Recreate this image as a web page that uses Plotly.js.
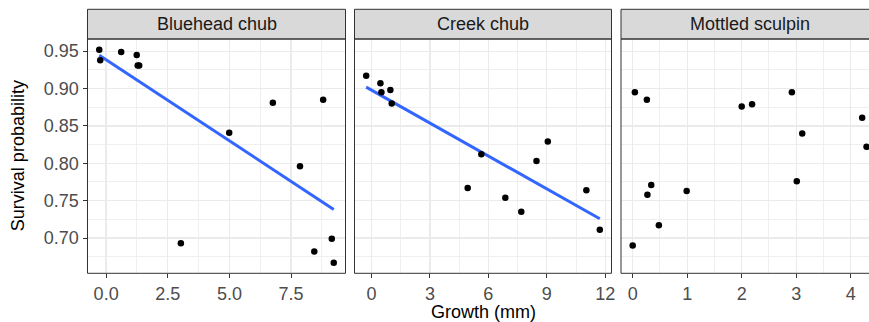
<!DOCTYPE html>
<html><head><meta charset="utf-8">
<script src="https://cdn.plot.ly/plotly-3.0.1.min.js"></script>
<style>html,body{margin:0;padding:0;overflow:hidden;background:#fff}#chart{width:869px;height:322px}</style>
</head><body><div id="chart"></div>
<script>
const panelNames = ["Bluehead chub", "Creek chub", "Mottled sculpin"];

const blueheadGrowth   = [-0.28, -0.24, 0.61, 1.24, 1.28, 1.34, 4.99, 6.76, 8.80, 7.86, 3.03, 8.44, 9.15, 9.23];
const blueheadSurvival = [0.952, 0.938, 0.949, 0.945, 0.931, 0.931, 0.841, 0.881, 0.885, 0.796, 0.693, 0.682, 0.699, 0.667];

const creekGrowth   = [-0.27, 0.46, 0.51, 0.97, 1.04, 5.64, 4.94, 6.87, 7.69, 8.47, 9.05, 11.03, 11.72];
const creekSurvival = [0.917, 0.907, 0.895, 0.898, 0.880, 0.812, 0.767, 0.754, 0.735, 0.803, 0.829, 0.764, 0.711];

const sculpinGrowth   = [0.04, 0.26, 0.34, 0.27, 0.99, 0.48, 0.00, 2.00, 2.19, 2.92, 3.11, 3.01, 4.21, 4.29];
const sculpinSurvival = [0.895, 0.885, 0.771, 0.758, 0.763, 0.717, 0.690, 0.876, 0.879, 0.895, 0.840, 0.776, 0.861, 0.822];

const yTickVals = [0.70, 0.75, 0.80, 0.85, 0.90, 0.95];
const yTickText = ["0.70", "0.75", "0.80", "0.85", "0.90", "0.95"];
const x1TickVals = [0, 2.5, 5, 7.5];
const x1TickText = ["0.0", "2.5", "5.0", "7.5"];
const x2TickVals = [0, 3, 6, 9, 12];
const x2TickText = ["0", "3", "6", "9", "12"];
const x3TickVals = [0, 1, 2, 3, 4];
const x3TickText = ["0", "1", "2", "3", "4"];

const W = 869, H = 322;
const FONT = "Liberation Sans, Arial, sans-serif";
const FS = 18;
const px = v => v / W;
const py = v => 1 - v / H;

function lmFit(x, y) {
  const n = x.length;
  const mx = x.reduce((a, b) => a + b, 0) / n;
  const my = y.reduce((a, b) => a + b, 0) / n;
  let sxy = 0, sxx = 0;
  for (let i = 0; i < n; i++) { sxy += (x[i] - mx) * (y[i] - my); sxx += (x[i] - mx) ** 2; }
  const b = sxy / sxx, a = my - b * mx;
  const x0 = Math.min(...x), x1 = Math.max(...x);
  return { x: [x0, x1], y: [a + b * x0, a + b * x1] };
}

const pts = (x, y, xa, ya) => ({ x, y, xaxis: xa, yaxis: ya, type: "scatter", mode: "markers",
  marker: { color: "#000000", size: 6.5 }, hoverinfo: "skip", showlegend: false });
const fitLine = (f, xa, ya) => ({ x: f.x, y: f.y, xaxis: xa, yaxis: ya, type: "scatter", mode: "lines",
  line: { color: "#3366FF", width: 3 }, hoverinfo: "skip", showlegend: false });

const f1 = lmFit(blueheadGrowth, blueheadSurvival);
const f2 = lmFit(creekGrowth, creekSurvival);

const data = [
  fitLine(f1, "x", "y"), pts(blueheadGrowth, blueheadSurvival, "x", "y"),
  fitLine(f2, "x2", "y2"), pts(creekGrowth, creekSurvival, "x2", "y2"),
  pts(sculpinGrowth, sculpinSurvival, "x3", "y3")
];

const panelTop = 39, panelBot = 273.3, stripTop = 9.3;
const panels = [[87.5, 345.5], [354.5, 611.5], [621, 869]];
const yDomain = [py(panelBot), py(panelTop)];

const tickFont = { family: FONT, size: FS, color: "#4D4D4D" };
function xAxis(i, range, tv, tt, minorD, anchor) {
  return {
    domain: [px(panels[i][0]), px(panels[i][1])], range, anchor,
    tickvals: tv, ticktext: tt, ticks: "outside", ticklen: 4, tickwidth: 1, tickcolor: "#333333",
    tickfont: tickFont, showgrid: true, gridcolor: "#EBEBEB", gridwidth: 1.3,
    minor: { dtick: minorD, tick0: 0, showgrid: true, gridcolor: "#EBEBEB", gridwidth: 0.8, ticks: "" },
    zeroline: false, showline: false, fixedrange: true
  };
}
function yAxis(anchor, labels) {
  return {
    domain: yDomain, range: [0.6528, 0.9663], anchor,
    tickvals: yTickVals, ticktext: yTickText, showticklabels: labels,
    ticks: labels ? "outside" : "", ticklen: 4, tickwidth: 1, tickcolor: "#333333",
    tickfont: tickFont, showgrid: true, gridcolor: "#EBEBEB", gridwidth: 1.3,
    minor: { dtick: 0.025, tick0: 0, showgrid: true, gridcolor: "#EBEBEB", gridwidth: 0.8, ticks: "" },
    zeroline: false, showline: false, fixedrange: true
  };
}

const shapes = [], annotations = [];
panels.forEach((p, i) => {
  const xr = i === 2 ? 1.01 : px(p[1]);
  shapes.push({ type: "rect", xref: "paper", yref: "paper", x0: px(p[0]), x1: xr, y0: py(panelTop), y1: py(stripTop),
    fillcolor: "#D9D9D9", line: { color: "#333333", width: 1 }, layer: "above" });
  shapes.push({ type: "rect", xref: "paper", yref: "paper", x0: px(p[0]), x1: xr, y0: py(panelBot), y1: py(panelTop),
    fillcolor: "rgba(0,0,0,0)", line: { color: "#333333", width: 1 }, layer: "above" });
  annotations.push({ text: panelNames[i], xref: "paper", yref: "paper",
    x: px((p[0] + (i === 2 ? 879 : p[1])) / 2), y: py((stripTop + panelTop) / 2),
    xanchor: "center", yanchor: "middle", showarrow: false,
    font: { family: FONT, size: FS, color: "#1A1A1A" } });
});
annotations.push({ text: "Growth (mm)", xref: "paper", yref: "paper", x: px(483), y: py(312),
  xanchor: "center", yanchor: "middle", showarrow: false, font: { family: FONT, size: FS, color: "#000000" } });
annotations.push({ text: "Survival probability", xref: "paper", yref: "paper", x: px(18), y: py((panelTop + panelBot) / 2),
  xanchor: "center", yanchor: "middle", textangle: -90, showarrow: false, font: { family: FONT, size: FS, color: "#000000" } });

const layout = {
  width: W, height: H, margin: { l: 0, r: 0, t: 0, b: 0 },
  paper_bgcolor: "#FFFFFF", plot_bgcolor: "#FFFFFF", showlegend: false,
  font: { family: FONT },
  xaxis: xAxis(0, [-0.756, 9.706], x1TickVals, x1TickText, 1.25, "y"),
  xaxis2: xAxis(1, [-0.87, 12.32], x2TickVals, x2TickText, 1.5, "y2"),
  xaxis3: xAxis(2, [-0.2145, (869 - 632) / 54.67], x3TickVals, x3TickText, 0.5, "y3"),
  yaxis: yAxis("x", true),
  yaxis2: Object.assign(yAxis("x2", false), { matches: "y" }),
  yaxis3: Object.assign(yAxis("x3", false), { matches: "y" }),
  shapes, annotations
};

Plotly.newPlot("chart", data, layout, { staticPlot: true, displayModeBar: false });
</script>
</body></html>
